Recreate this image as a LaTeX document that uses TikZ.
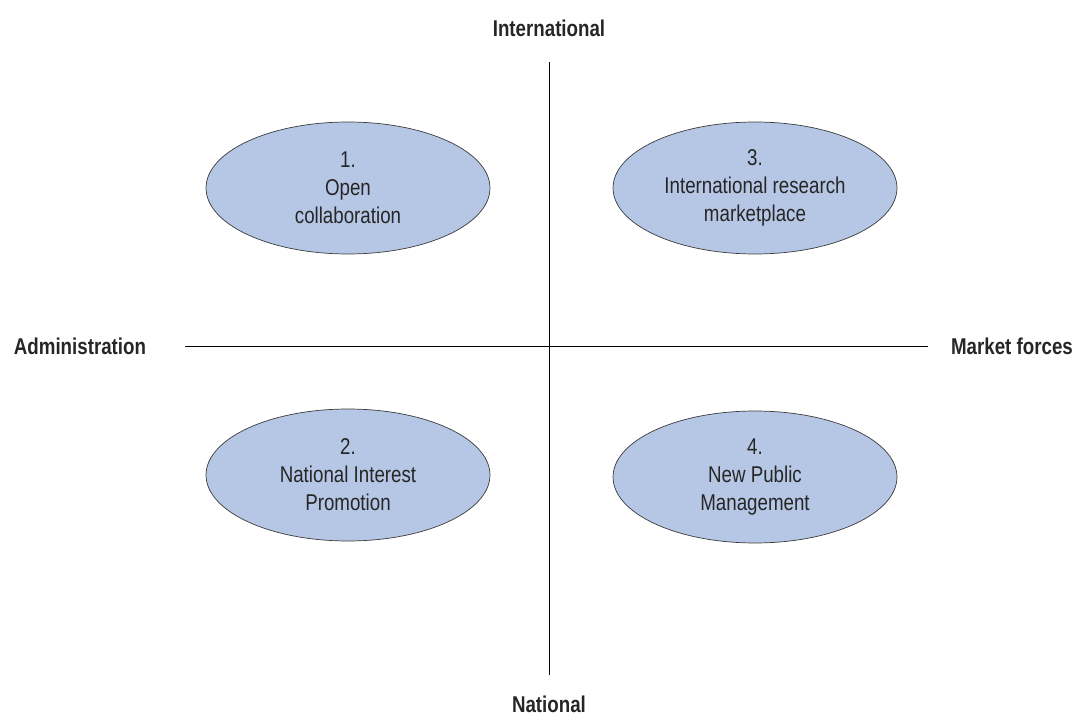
\documentclass[tikz,border=0pt]{standalone}
\usepackage{fontspec}
\setmainfont{Liberation Sans}[FakeStretch=0.82]
\usepackage{xcolor}
\usepackage{tikz}
\usetikzlibrary{shapes.geometric, positioning}
\definecolor{scenblue}{RGB}{182, 199, 230}
\definecolor{scenedge}{RGB}{60, 60, 60}

\tikzset{
    scenario/.style={ellipse, draw=scenedge, fill=scenblue, thin, inner sep=0pt,
        minimum width=5.68cm, minimum height=2.64cm, align=center,
        font=\fontsize{13}{16}\selectfont, text=black!85},
    axislabel/.style={font=\fontsize{13}{15}\selectfont\bfseries, text=black!85}
}

\begin{document}
\begin{tikzpicture}[x=0.02cm, y=-0.02cm]
    \useasboundingbox (0,0) rectangle (1079,719);

    % Axis labels
    \node[axislabel] (intl) at (549,28) {International};
    \node[axislabel] (natl) at (549,704) {National};
    \node[axislabel] (admin) at (80,346) {Administration};
    \node[axislabel] (market) at (1012,346) {Market forces};

    % The Axes
    \coordinate (top) at (549,62);
    \coordinate (bottom) at (549,675);
    \coordinate (left) at (185,346);
    \coordinate (right) at (928,346);
    \draw[thin] (top) -- (bottom);
    \draw[thin] (left) -- (right);

    % The Scenarios
    \node[scenario] (open) at (348,188) {1.\\Open\\collaboration};
    \node[scenario] (market3) at (755,188) {3.\\International research\\marketplace};
    \node[scenario] (national) at (348,475) {2.\\National Interest\\Promotion};
    \node[scenario] (npm) at (755,477) {4.\\New Public\\Management};
\end{tikzpicture}
\end{document}
